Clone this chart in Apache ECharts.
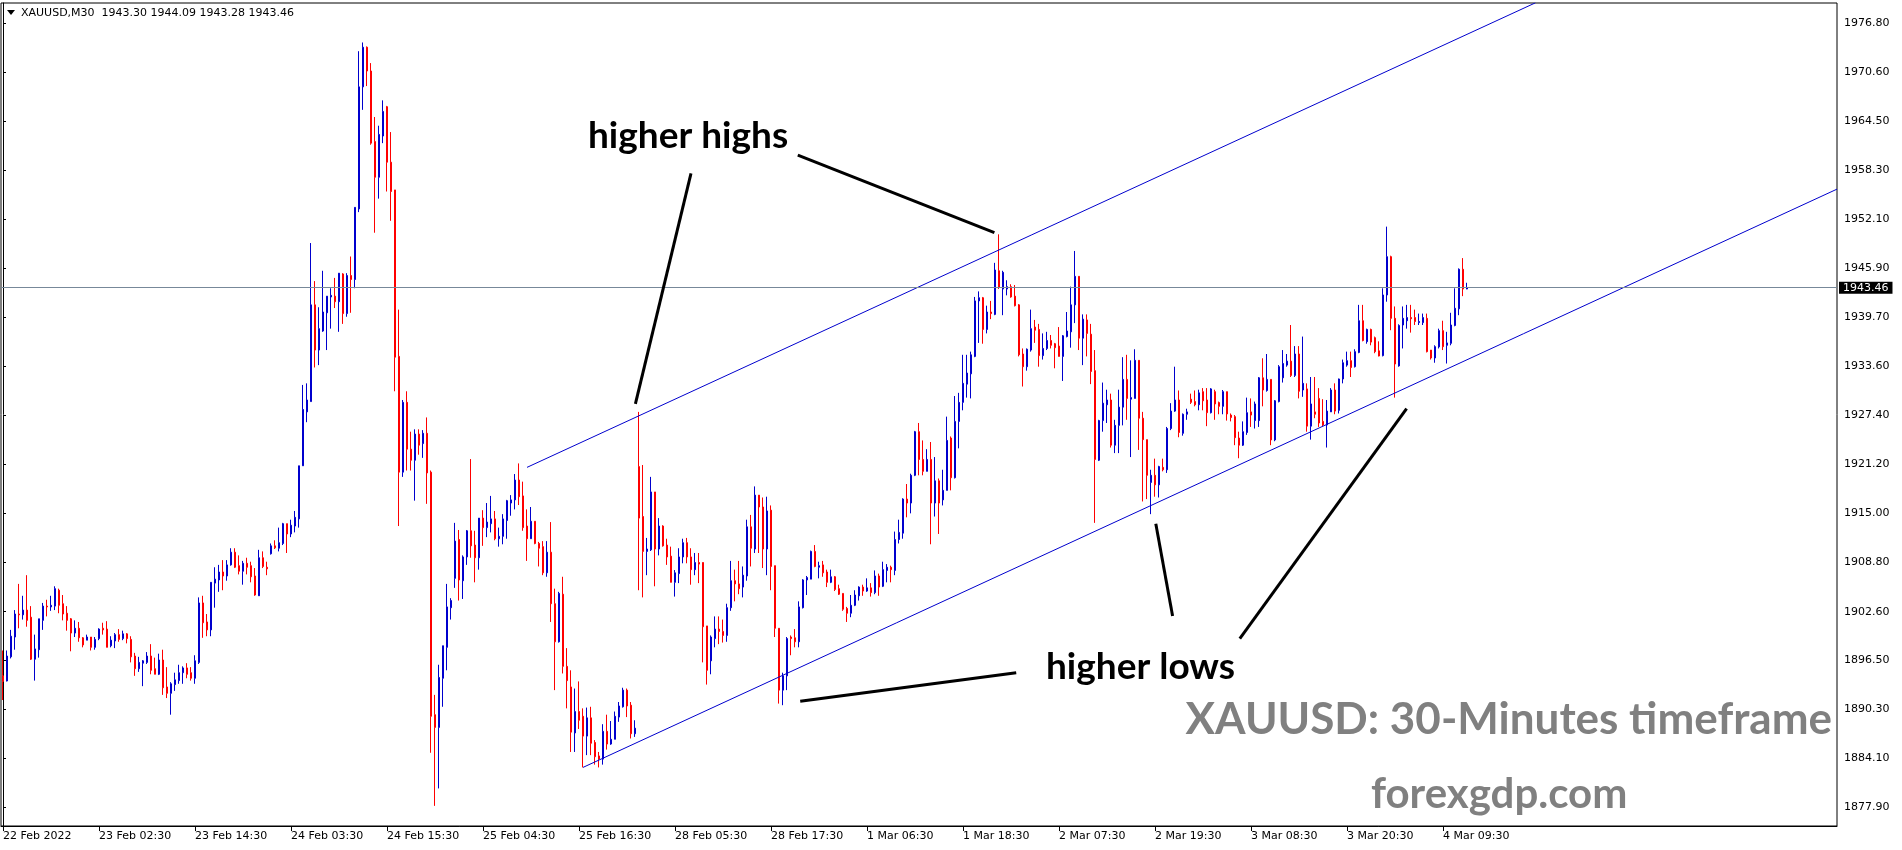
<!DOCTYPE html>
<html>
<head>
<meta charset="utf-8">
<script src="https://cdn.jsdelivr.net/npm/echarts@6/dist/echarts.min.js"></script>
<style>
html,body{margin:0;padding:0;background:#fff;}
#c{width:1902px;height:850px;}
</style>
</head>
<body>
<div id="c"></div>
<script>
const headerText = 'XAUUSD,M30  1943.30 1944.09 1943.28 1943.46';
const totalSlots = 459;
const labelEvery = 24;
const xTickLabels = ['22 Feb 2022','23 Feb 02:30','23 Feb 14:30','24 Feb 03:30','24 Feb 15:30','25 Feb 04:30','25 Feb 16:30','28 Feb 05:30','28 Feb 17:30','1 Mar 06:30','1 Mar 18:30','2 Mar 07:30','2 Mar 19:30','3 Mar 08:30','3 Mar 20:30','4 Mar 09:30'];
const yTickLabels = [1877.90,1884.10,1890.30,1896.50,1902.60,1908.80,1915.00,1921.20,1927.40,1933.60,1939.70,1945.90,1952.10,1958.30,1964.50,1970.60,1976.80];
const lastPrice = 1943.46;

const opens = [
1894.5,1893.85,1896.9,1899.4,1902.3,1902.2,1902.8,1901.9,1896.6,1897.8,
1901.5,1903.3,1903.2,1903.3,1905.3,1903.6,1902.4,1901.7,1899.9,1900.5,
1899.3,1899.0,1899.4,1898.1,1899.2,1900.5,1900.4,1898.3,1898.9,1899.7,
1899.2,1899.8,1899.1,1897.0,1895.4,1896.1,1896.2,1897.0,1895.4,1894.7,
1896.5,1893.1,1892.3,1893.4,1893.9,1894.9,1895.5,1894.9,1894.2,1896.2,
1903.7,1901.3,1900.3,1906.2,1906.6,1907.6,1907.1,1908.5,1910.1,1908.4,
1907.7,1908.7,1908.4,1907.1,1904.6,1909.4,1908.2,1909.9,1910.9,1910.6,
1911.2,1913.7,1912.4,1913.4,1914.3,1921.0,1927.8,1929.1,1941.3,1935.6,
1938.0,1940.3,1942.3,1942.4,1941.7,1945.2,1940.2,1945.0,1944.5,1953.4,
1968.8,1973.8,1970.8,1961.9,1957.4,1962.6,1966.3,1959.3,1955.8,1934.8,
1920.2,1929.0,1923.1,1921.7,1925.0,1923.8,1925.1,1920.2,1889.6,1888.0,
1894.2,1898.1,1903.1,1906.8,1911.7,1906.5,1909.5,1912.8,1911.0,1909.4,
1914.4,1913.2,1913.7,1914.3,1911.8,1912.1,1914.1,1916.3,1916.7,1919.2,
1917.2,1913.4,1911.8,1914.0,1911.2,1910.8,1907.5,1910.1,1903.6,1898.8,
1904.8,1895.7,1893.1,1887.3,1890.0,1889.4,1886.9,1889.2,1886.1,1884.4,
1884.0,1887.5,1885.9,1886.5,1889.3,1890.6,1892.7,1890.8,1887.2,1920.9,
1914.6,1910.2,1910.4,1917.7,1910.5,1913.4,1911.0,1909.6,1906.3,1907.4,
1909.5,1911.3,1909.5,1907.9,1908.8,1908.8,1900.8,1896.4,1899.2,1900.4,
1900.1,1899.6,1903.1,1906.5,1906.1,1905.7,1907.1,1913.3,1910.5,1917.3,
1915.8,1910.5,1915.4,1908.4,1900.5,1892.7,1894.5,1899.4,1899.3,1898.8,
1903.1,1906.6,1906.7,1910.2,1908.2,1908.5,1907.6,1906.3,1907.0,1905.5,
1904.9,1903.0,1902.4,1903.4,1904.6,1905.7,1905.2,1905.6,1905.0,1907.1,
1905.8,1907.8,1908.2,1907.8,1911.7,1912.5,1916.8,1916.3,1919.8,1925.3,
1921.8,1920.3,1921.8,1916.3,1919.1,1916.7,1917.9,1924.5,1919.5,1926.6,
1929.0,1931.3,1932.6,1934.8,1941.8,1942.2,1938.2,1940.4,1940.1,1945.6,
1943.3,1943.3,1943.6,1942.4,1941.3,1935.1,1933.5,1935.6,1938.5,1938.2,
1934.9,1935.8,1936.8,1936.4,1936.1,1934.8,1937.3,1937.9,1941.3,1944.9,
1937.1,1939.4,1937.6,1933.0,1921.7,1926.7,1928.7,1929.3,1923.6,1926.1,
1928.4,1931.9,1929.4,1929.5,1934.3,1927.0,1924.3,1918.9,1919.8,1918.6,
1920.8,1920.5,1925.7,1927.9,1929.3,1925.1,1927.5,1929.4,1929.1,1928.7,
1930.35,1929.3,1927.7,1930.35,1928.97,1928.5,1930.35,1927.4,1927.2,1924.5,
1923.6,1925.2,1927.8,1926.7,1926.7,1932.1,1930.5,1931.9,1924.26,1929.1,
1932.1,1933.7,1934.2,1932.4,1935.1,1930.56,1930.7,1926.0,1927.8,1929.5,
1926.6,1926.15,1927.8,1930.56,1928.0,1931.95,1933.7,1934.26,1933.5,1935.3,
1939.3,1936.66,1938.2,1937.16,1935.5,1934.9,1942.55,1947.38,1939.6,1933.6,
1938.76,1939.3,1939.7,1939.7,1939.06,1939.06,1939.6,1935.6,1934.6,1936.0,
1938.05,1936.2,1936.45,1938.7,1940.8,1945.79,1943.30
];
const highs = [
1897.7,1897.7,1900.3,1902.8,1906.1,1904.6,1907.2,1903.3,1899.7,1901.7,
1903.7,1904.1,1904.6,1905.8,1905.5,1904.7,1903.3,1901.8,1901.5,1901.3,
1899.4,1899.7,1899.4,1899.4,1900.5,1901.2,1901.4,1899.5,1899.9,1900.4,
1900.2,1899.9,1899.5,1897.4,1896.9,1896.5,1897.5,1898.5,1896.8,1897.3,
1897.8,1895.6,1893.7,1894.9,1895.9,1895.7,1896.1,1895.6,1897.1,1904.4,
1904.6,1902.3,1906.3,1908.2,1908.5,1909.1,1909.1,1910.6,1910.6,1909.7,
1909.0,1909.4,1908.9,1908.1,1910.4,1910.2,1908.9,1911.2,1911.6,1913.2,
1913.8,1913.7,1914.2,1915.3,1921.0,1931.2,1931.4,1949.1,1944.3,1941.0,
1945.6,1942.4,1943.4,1944.7,1945.3,1945.3,1945.3,1947.4,1953.6,1973.3,
1974.4,1973.9,1971.8,1965.0,1963.9,1967.1,1966.4,1963.1,1955.8,1940.7,
1929.3,1930.4,1925.3,1925.6,1925.6,1925.5,1927.1,1920.4,1892.1,1895.9,
1898.3,1906.1,1904.3,1913.8,1912.9,1909.7,1912.9,1921.85,1912.8,1914.4,
1915.4,1916.3,1917.2,1915.3,1913.2,1914.9,1916.7,1917.3,1919.96,1921.3,
1919.0,1915.5,1915.8,1914.0,1911.4,1911.5,1911.5,1913.9,1905.5,1905.1,
1907.0,1898.0,1895.2,1892.9,1893.8,1890.4,1890.5,1890.6,1886.4,1884.9,
1888.4,1889.6,1888.8,1890.0,1891.2,1893.0,1892.9,1891.2,1888.9,1927.8,
1921.1,1911.9,1919.6,1917.7,1914.4,1913.5,1911.8,1910.8,1907.85,1910.6,
1911.8,1911.9,1910.6,1910.0,1910.0,1908.8,1900.8,1899.6,1902.0,1902.0,
1901.6,1903.6,1909.0,1907.9,1909.0,1908.3,1914.2,1914.8,1918.4,1917.3,
1917.0,1917.1,1916.0,1908.4,1900.5,1894.9,1899.4,1899.6,1900.4,1903.9,
1906.7,1907.1,1910.3,1911.0,1908.9,1909.0,1907.9,1907.9,1907.1,1906.0,
1904.9,1903.2,1904.7,1905.3,1905.8,1906.0,1906.8,1906.2,1907.8,1907.4,
1908.9,1908.6,1908.4,1912.7,1914.2,1916.9,1918.7,1920.0,1925.4,1926.4,
1924.2,1923.1,1924.0,1922.1,1919.4,1920.5,1927.2,1924.7,1929.8,1930.2,
1935.0,1935.0,1935.4,1942.3,1943.0,1942.3,1941.2,1941.8,1946.6,1950.2,
1945.6,1944.4,1943.9,1943.8,1941.4,1935.8,1935.8,1940.7,1939.4,1938.9,
1937.7,1937.9,1937.5,1936.5,1938.5,1937.5,1940.4,1943.6,1948.1,1944.9,
1940.1,1940.1,1938.9,1935.6,1926.8,1931.5,1930.6,1930.1,1926.8,1930.6,
1934.7,1935.0,1934.3,1935.7,1934.3,1927.8,1924.3,1920.5,1921.9,1921.0,
1921.9,1925.9,1928.9,1933.5,1930.5,1927.6,1928.2,1930.1,1930.5,1930.6,
1930.8,1930.8,1930.8,1930.6,1929.1,1930.56,1930.35,1927.6,1927.4,1925.3,
1926.6,1929.6,1929.5,1929.1,1932.2,1934.56,1935.1,1931.9,1929.3,1933.7,
1935.6,1935.1,1938.76,1936.1,1936.1,1937.3,1931.4,1932.2,1932.2,1930.8,
1929.4,1929.3,1930.8,1931.4,1932.0,1934.4,1935.4,1935.4,1935.7,1941.3,
1941.3,1938.3,1938.3,1937.3,1936.7,1943.39,1951.17,1947.5,1941.1,1938.85,
1941.1,1941.3,1941.3,1940.7,1940.2,1940.2,1940.2,1935.6,1936.2,1938.3,
1939.3,1937.9,1940.3,1943.39,1945.9,1947.2,1944.09
];
const lows = [
1891.45,1893.8,1896.7,1897.8,1900.5,1901.6,1900.7,1896.5,1893.9,1896.8,
1900.3,1902.0,1902.7,1902.8,1902.4,1901.5,1900.2,1897.6,1899.4,1898.8,
1898.1,1899.0,1897.7,1897.8,1899.0,1899.7,1898.1,1898.1,1898.0,1898.8,
1899.0,1898.6,1896.2,1894.5,1895.0,1893.2,1896.0,1894.7,1894.7,1894.6,
1892.1,1891.7,1889.6,1892.6,1893.5,1893.5,1894.2,1893.9,1893.5,1896.0,
1899.3,1899.5,1899.5,1903.1,1905.1,1905.3,1906.5,1908.4,1908.1,1907.3,
1906.0,1907.3,1906.3,1904.6,1904.6,1908.1,1907.2,1909.8,1910.5,1910.2,
1911.0,1910.0,1912.0,1912.6,1913.2,1921.0,1926.5,1929.1,1933.4,1933.7,
1937.9,1935.6,1938.3,1940.9,1937.9,1938.9,1939.8,1940.3,1943.4,1953.0,
1965.9,1968.9,1961.5,1950.4,1954.7,1961.7,1955.6,1951.9,1930.4,1913.4,
1919.6,1920.4,1920.4,1916.6,1922.4,1922.0,1916.2,1884.8,1878.1,1880.3,
1890.6,1895.2,1901.6,1905.6,1904.0,1904.2,1908.5,1909.4,1906.3,1907.9,
1910.9,1912.0,1912.6,1911.6,1910.8,1911.1,1911.8,1914.7,1915.5,1916.05,
1912.8,1909.0,1911.8,1911.1,1908.3,1907.2,1907.0,1901.3,1892.7,1898.7,
1894.8,1890.4,1884.9,1884.9,1887.8,1882.95,1884.5,1884.5,1883.3,1882.95,
1883.3,1885.2,1885.8,1886.5,1888.7,1890.5,1889.3,1886.6,1886.8,1905.3,
1904.4,1907.2,1910.25,1905.8,1909.7,1910.8,1908.5,1906.3,1904.5,1906.2,
1908.7,1908.7,1906.0,1907.2,1906.2,1896.2,1893.4,1894.7,1898.1,1898.5,
1898.7,1898.8,1902.7,1903.9,1904.8,1904.4,1906.5,1908.3,1910.0,1910.0,
1908.1,1907.2,1905.3,1899.4,1891.0,1890.8,1892.7,1897.1,1898.1,1898.1,
1903.0,1904.7,1906.7,1908.2,1906.8,1907.0,1905.7,1906.2,1905.2,1904.7,
1902.7,1901.3,1901.9,1903.3,1904.0,1904.6,1905.1,1904.5,1904.8,1904.6,
1905.7,1906.3,1906.3,1907.2,1911.2,1911.8,1914.5,1915.0,1919.7,1919.8,
1919.8,1920.3,1911.1,1914.6,1912.4,1916.0,1917.9,1917.9,1919.4,1923.2,
1928.0,1929.6,1929.5,1934.7,1936.5,1936.4,1937.7,1939.5,1940.0,1943.3,
1940.0,1942.5,1942.2,1941.1,1934.8,1931.0,1933.0,1935.4,1936.5,1933.5,
1934.4,1935.6,1935.8,1933.3,1934.8,1931.7,1937.2,1935.9,1939.0,1935.6,
1933.7,1934.8,1931.3,1913.8,1921.6,1925.3,1926.4,1923.3,1922.6,1922.6,
1926.1,1926.8,1922.1,1929.5,1923.0,1916.5,1916.8,1914.9,1917.1,1917.0,
1920.3,1920.1,1925.5,1927.8,1924.6,1924.8,1926.8,1928.8,1928.5,1928.0,
1928.0,1926.0,1927.6,1926.8,1927.5,1927.5,1926.7,1926.6,1923.6,1921.95,
1923.5,1924.9,1925.9,1925.7,1925.9,1928.5,1930.35,1923.6,1924.1,1929.0,
1931.5,1933.5,1932.2,1932.2,1929.5,1929.7,1925.3,1924.3,1927.0,1925.9,
1926.0,1923.3,1927.8,1927.5,1927.6,1931.4,1933.5,1932.2,1933.4,1935.2,
1936.7,1936.4,1936.2,1935.2,1934.8,1934.8,1941.7,1938.1,1929.6,1933.5,
1935.8,1938.3,1937.8,1938.76,1938.76,1938.76,1935.3,1934.4,1934.0,1935.8,
1935.6,1933.9,1936.2,1938.6,1940.0,1942.4,1943.28
];
const closes = [
1893.8,1897.0,1899.5,1902.3,1902.2,1902.8,1901.5,1896.6,1897.9,1901.7,
1903.3,1903.2,1903.4,1905.5,1903.4,1902.3,1901.5,1899.9,1900.5,1899.3,
1898.4,1899.4,1898.1,1899.1,1900.4,1900.3,1898.1,1899.0,1899.7,1899.1,
1899.8,1899.2,1896.9,1895.4,1896.2,1896.4,1897.0,1895.2,1894.7,1896.5,
1893.0,1892.3,1893.5,1894.0,1894.9,1895.5,1894.7,1894.2,1896.4,1903.7,
1901.2,1900.3,1906.3,1906.7,1907.6,1907.1,1908.5,1910.1,1908.2,1907.7,
1908.7,1908.2,1907.0,1904.7,1909.4,1908.3,1908.0,1910.9,1910.65,1911.3,
1913.7,1912.4,1913.5,1914.5,1921.0,1928.1,1929.3,1941.3,1935.6,1938.3,
1940.4,1942.4,1942.5,1941.7,1945.3,1940.2,1945.0,1944.5,1953.6,1968.8,
1973.8,1970.8,1961.7,1957.4,1962.8,1965.7,1959.3,1955.6,1934.7,1920.2,
1929.0,1923.1,1921.7,1925.0,1923.6,1925.1,1920.1,1889.4,1888.0,1894.3,
1898.3,1903.2,1904.0,1911.5,1906.6,1909.5,1912.8,1910.9,1909.4,1914.4,
1913.2,1913.9,1914.3,1911.8,1912.1,1914.3,1916.6,1916.7,1919.2,1917.1,
1913.2,1911.8,1914.0,1911.2,1910.6,1907.5,1910.1,1903.6,1898.8,1904.9,
1895.7,1893.9,1887.4,1890.0,1888.9,1886.9,1889.2,1886.0,1884.3,1884.0,
1887.5,1885.9,1886.5,1889.4,1890.7,1892.7,1890.7,1887.2,1887.9,1914.4,
1910.2,1910.5,1917.7,1910.5,1913.4,1910.9,1909.5,1906.3,1907.5,1909.5,
1911.3,1909.5,1907.9,1908.8,1908.6,1900.7,1895.2,1899.4,1900.4,1900.1,
1899.6,1903.1,1906.5,1906.1,1905.5,1907.2,1913.3,1910.6,1917.3,1915.8,
1910.5,1915.3,1908.3,1900.5,1892.7,1894.5,1899.2,1899.2,1898.8,1903.2,
1906.6,1906.9,1910.2,1908.3,1908.4,1907.5,1906.3,1907.0,1905.4,1904.8,
1902.9,1902.4,1903.4,1904.7,1905.7,1905.2,1905.6,1905.0,1907.1,1905.7,
1907.9,1908.2,1907.9,1911.7,1912.6,1916.8,1916.3,1919.8,1925.3,1921.8,
1920.3,1921.8,1916.3,1919.1,1916.3,1917.9,1924.2,1919.5,1926.6,1929.0,
1931.4,1932.7,1935.0,1941.8,1942.2,1938.2,1940.4,1940.2,1945.7,1943.5,
1945.4,1943.6,1942.3,1941.2,1935.0,1933.5,1935.7,1938.3,1938.1,1934.9,
1935.8,1936.8,1936.2,1935.9,1934.8,1937.4,1938.0,1941.3,1944.9,1937.1,
1939.5,1937.7,1932.9,1921.8,1926.7,1928.9,1929.3,1923.6,1926.1,1928.4,
1931.9,1929.5,1929.6,1934.3,1927.0,1924.3,1919.8,1919.8,1918.6,1920.9,
1920.5,1925.7,1927.9,1929.3,1925.2,1927.5,1927.8,1929.0,1928.7,1930.2,
1929.2,1927.7,1930.7,1928.8,1928.5,1930.35,1927.54,1927.1,1924.55,1923.6,
1925.3,1927.7,1927.4,1928.8,1932.1,1930.56,1931.9,1924.26,1929.2,1933.5,
1933.9,1934.2,1932.4,1935.1,1930.4,1931.4,1926.0,1928.8,1927.5,1926.4,
1926.15,1927.9,1930.56,1927.9,1931.95,1934.0,1934.26,1933.4,1935.4,1939.3,
1936.8,1938.2,1936.6,1935.4,1934.85,1942.55,1947.38,1939.6,1933.84,1938.7,
1939.6,1939.7,1939.55,1939.2,1939.2,1939.7,1935.4,1934.6,1936.03,1938.05,
1936.03,1936.5,1938.76,1940.87,1945.79,1943.3,1943.46
];

// trend channel anchors [bar index, price]
const upperChannel = [[131, 1920.8], [383.1, 1979.4]];
const lowerChannel = [[145, 1882.95], [458.5, 1955.9]];
// annotation pointer segments [bar index, price]
const pointerLines = [
  [[172.0, 1957.9], [158.1, 1928.8]],
  [[198.7, 1960.2], [247.85, 1950.4]],
  [[253.3, 1894.9], [199.3, 1891.3]],
  [[292.4, 1902.05], [288.2, 1913.7]],
  [[309.2, 1899.2], [350.9, 1928.2]]
];

const slots = Array.from({length: totalSlots}, (_, i) => i);
const candleData = opens.map((o, i) => [o, closes[i], lows[i], highs[i]]);
const showTick = (idx) => idx % labelEvery === 0 && idx / labelEvery < xTickLabels.length;

const chart = echarts.init(document.getElementById('c'), null, {renderer: 'canvas'});
const axisFont = 'DejaVu Sans';

const series = [
  {
    type: 'candlestick',
    xAxisIndex: 0, yAxisIndex: 0,
    data: candleData,
    barWidth: 2.4,
    itemStyle: {color: '#0000cd', color0: '#ff0000', borderColor: '#0000cd', borderColor0: '#ff0000', borderWidth: 1},
    animation: false,
    silent: true,
    markLine: {
      symbol: 'none', silent: true, animation: false,
      data: [{yAxis: lastPrice}],
      lineStyle: {color: '#778899', width: 1, type: 'solid'},
      label: {position: 'end', distance: 2, formatter: () => lastPrice.toFixed(2),
        backgroundColor: '#000', color: '#fff', padding: [1, 4, 0, 4], fontFamily: axisFont, fontSize: 11}
    }
  },
  {type: 'line', xAxisIndex: 1, yAxisIndex: 0, data: upperChannel, symbol: 'none', silent: true, animation: false,
   lineStyle: {color: '#0000cd', width: 1}},
  {type: 'line', xAxisIndex: 1, yAxisIndex: 0, data: lowerChannel, symbol: 'none', silent: true, animation: false,
   lineStyle: {color: '#0000cd', width: 1}}
];
pointerLines.forEach(seg => series.push({
  type: 'line', xAxisIndex: 1, yAxisIndex: 0, data: seg, symbol: 'none', silent: true, animation: false, z: 5,
  lineStyle: {color: '#000', width: 3}
}));

chart.setOption({
  animation: false,
  backgroundColor: '#fff',
  grid: {left: 1, right: 65, top: 3, bottom: 24, show: true, borderColor: '#000', borderWidth: 1, backgroundColor: '#fff'},
  xAxis: [
    {
      type: 'category', data: slots, boundaryGap: true,
      axisLine: {show: true, lineStyle: {color: '#000', width: 1}},
      axisTick: {show: true, alignWithLabel: true, interval: showTick, length: 5, lineStyle: {color: '#000'}},
      axisLabel: {interval: showTick, formatter: (v, idx) => xTickLabels[idx / labelEvery] || '',
        align: 'left', margin: 5, color: '#000', fontFamily: axisFont, fontSize: 11},
      splitLine: {show: false}
    },
    {type: 'value', min: -0.5, max: totalSlots - 0.5, show: false}
  ],
  yAxis: {
    type: 'value', position: 'right', min: 1875.56, max: 1979.38, scale: true,
    axisLine: {show: true, lineStyle: {color: '#000', width: 1}},
    axisTick: {show: true, customValues: yTickLabels, length: 3, lineStyle: {color: '#000'}},
    axisLabel: {customValues: yTickLabels, formatter: v => v.toFixed(2), margin: 7, color: '#000',
      fontFamily: axisFont, fontSize: 11, align: 'left'},
    splitLine: {show: false}
  },
  series: series,
  graphic: [
    {type: 'polygon', shape: {points: [[7, 10], [15, 10], [11, 15]]}, style: {fill: '#000'}, z: 100},
    {type: 'text', x: 21, y: 13, z: 100, style: {text: headerText, font: '11px "DejaVu Sans"', fill: '#000', textAlign: 'left', textVerticalAlign: 'middle'}},
    {type: 'text', x: 588, y: 136, z: 100, style: {text: 'higher highs', font: 'bold 37px Lato', fill: '#000', textAlign: 'left', textVerticalAlign: 'middle'}},
    {type: 'text', x: 1046, y: 667, z: 100, style: {text: 'higher lows', font: 'bold 37px Lato', fill: '#000', textAlign: 'left', textVerticalAlign: 'middle'}},
    {type: 'text', x: 1832, y: 720, z: 100, style: {text: 'XAUUSD: 30-Minutes timeframe', font: 'bold 44px Lato', fill: '#808080', textAlign: 'right', textVerticalAlign: 'middle'}},
    {type: 'text', x: 1371, y: 794, z: 100, style: {text: 'forexgdp.com', font: 'bold 42px Lato', fill: '#808080', textAlign: 'left', textVerticalAlign: 'middle'}}
  ]
});
</script>
</body>
</html>
